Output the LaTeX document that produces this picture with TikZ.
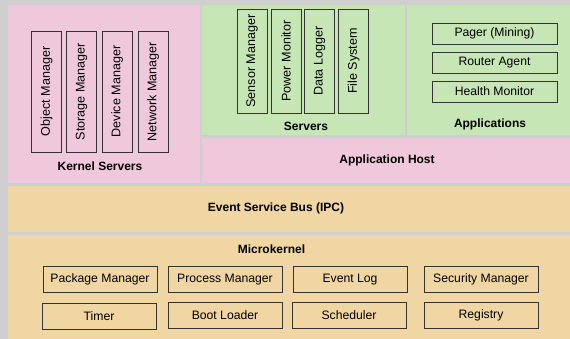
\documentclass[tikz,border=0pt]{standalone}
\usepackage{fontspec}
\setmainfont{Liberation Sans}
\definecolor{sepgray}{HTML}{CFCFCF}
\definecolor{kpink}{HTML}{F0C8DC}
\definecolor{sgreen}{HTML}{C6E6B5}
\definecolor{mbeige}{HTML}{F0D6A2}
\definecolor{boxline}{HTML}{333333}
\tikzset{
  region/.style={anchor=north west, inner sep=0pt, outer sep=0pt},
  part/.style={draw=boxline, line width=0.9pt, inner sep=0pt, font=\fontsize{12.2}{14}\selectfont},
  vpart/.style={part, rotate=90, minimum height=30pt, font=\fontsize{12.6}{14}\selectfont},
  hpart/.style={part, minimum width=125pt, minimum height=21pt},
  mpart/.style={part, minimum width=114pt, minimum height=26pt},
  layerlabel/.style={font=\fontsize{12}{14}\selectfont\bfseries, inner sep=0pt}
}
\begin{document}
\begin{tikzpicture}[x=1pt,y=-1pt]
  \useasboundingbox (0,0) rectangle (570,339);
  \fill[sepgray] (0,0) rectangle (570,339);

  % layers
  \node[region, fill=kpink, minimum width=192pt, minimum height=178pt] (kernelservers) at (8,5) {};
  \node[region, fill=sgreen, minimum width=203pt, minimum height=130pt] (servers) at (202,5) {};
  \node[region, fill=sgreen, minimum width=163pt, minimum height=130pt] (applications) at (407,5) {};
  \node[region, fill=kpink, minimum width=368pt, minimum height=45pt] (apphost) at (202,138) {};
  \node[region, fill=mbeige, minimum width=562pt, minimum height=46pt] (eventbus) at (8,186) {};
  \node[region, fill=mbeige, minimum width=562pt, minimum height=104pt] (microkernel) at (8,235) {};

  % kernel servers
  \node[vpart, minimum width=121pt] (objmgr) at (46.5,91.5) {Object Manager};
  \node[vpart, minimum width=121pt] (stomgr) at (81.5,91.5) {Storage Manager};
  \node[vpart, minimum width=121pt] (devmgr) at (117,91.5) {Device Manager};
  \node[vpart, minimum width=121pt] (netmgr) at (153,91.5) {Network Manager};
  \node[layerlabel] (kslabel) at (100,166) {Kernel Servers};

  % servers
  \node[vpart, minimum width=104pt] (sensmgr) at (252,61) {Sensor Manager};
  \node[vpart, minimum width=104pt] (powmon) at (286,61) {Power Monitor};
  \node[vpart, minimum width=104pt] (datalog) at (319.5,61) {Data Logger};
  \node[vpart, minimum width=104pt] (filesys) at (353.5,61) {File System};
  \node[layerlabel] (srvlabel) at (306,126) {Servers};

  % applications
  \node[hpart] (pager) at (494.5,33.5) {Pager (Mining)};
  \node[hpart] (router) at (494.5,62.5) {Router Agent};
  \node[hpart] (health) at (494.5,91.5) {Health Monitor};
  \node[layerlabel] (applabel) at (490,124) {Applications};

  % application host and bus
  \node[layerlabel] (hostlabel) at (387,160) {Application Host};
  \node[layerlabel] (buslabel) at (276,208) {Event Service Bus (IPC)};

  % microkernel
  \node[layerlabel] (mklabel) at (271.5,249) {Microkernel};
  \node[mpart] (pkgmgr) at (100,279.5) {Package Manager};
  \node[mpart] (procmgr) at (225,279.5) {Process Manager};
  \node[mpart] (evlog) at (350,279.5) {Event Log};
  \node[mpart] (secmgr) at (481,279.5) {Security Manager};
  \node[mpart] (timer) at (99,316) {Timer};
  \node[mpart] (boot) at (225,315) {Boot Loader};
  \node[mpart] (sched) at (349,315) {Scheduler};
  \node[mpart] (registry) at (481,315) {Registry};
\end{tikzpicture}
\end{document}
